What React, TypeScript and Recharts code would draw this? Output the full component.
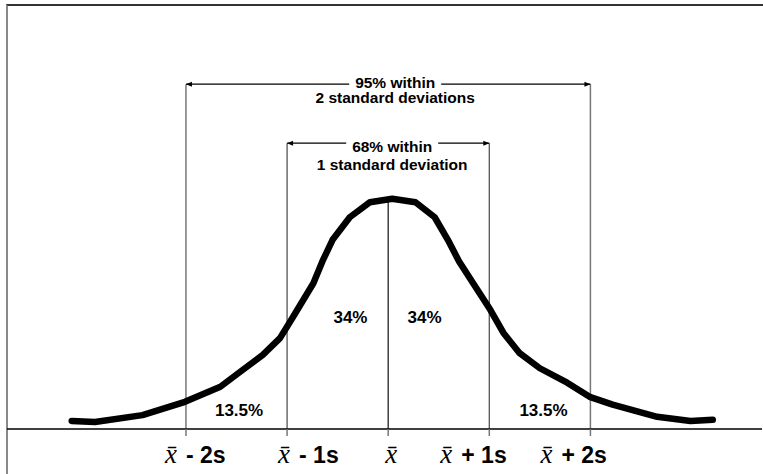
import { LineChart, Line, XAxis, YAxis, ReferenceLine, ReferenceDot } from 'recharts'

// bell curve, x in standard deviations from the mean
const curveZ = [
  -3.13, -2.9, -2.43, -2.01, -1.66, -1.44, -1.24, -1.07, -0.94, -0.74, -0.65, -0.55, -0.38, -0.18, 0.04,
  0.27, 0.46, 0.59, 0.7, 0.84, 1.01, 1.14, 1.3, 1.5, 1.77, 2.0, 2.22, 2.66, 2.99, 3.21,
]
const curveDensity = [
  0.014, 0.012, 0.024, 0.047, 0.073, 0.102, 0.128, 0.157, 0.194, 0.252, 0.29, 0.327, 0.366, 0.392, 0.398,
  0.392, 0.366, 0.327, 0.29, 0.252, 0.206, 0.166, 0.131, 0.105, 0.08, 0.055, 0.042, 0.021, 0.014, 0.016,
]

const sdTicks = [-2, -1, 0, 1, 2]
const tickSuffix = ['- 2s', '- 1s', '', '+ 1s', '+ 2s']

const bandShares = ['13.5%', '34%', '34%', '13.5%']
const within2 = ['95% within', '2 standard deviations']
const within1 = ['68% within', '1 standard deviation']

// layout
const W = 763
const H = 474
const FONT = 'Liberation Sans, Arial, sans-serif'
const tickNudge = [-21, -9, -3, -49, -50]
const shareAt = [
  { z: -1.475, v: 0.0225 },
  { z: -0.373, v: 0.183 },
  { z: 0.359, v: 0.183 },
  { z: 1.536, v: 0.0225 },
]
const level2 = 0.596
const level1 = 0.494

const data = curveZ.map((z, i) => ({ z, d: curveDensity[i] }))
const peak = Math.max(...curveDensity)

function SdTick(props: any) {
  const { x, y, payload } = props
  const i = sdTicks.indexOf(payload.value)
  const suffix = tickSuffix[i]
  return (
    <text x={x + tickNudge[i]} y={y + 25} fill="#000">
      <tspan fontFamily="Liberation Serif, serif" fontStyle="italic" fontSize={27}>
        x̄
      </tspan>
      {suffix && (
        <tspan dx={9} fontFamily={FONT} fontWeight="bold" fontSize={23}>
          {suffix}
        </tspan>
      )}
    </text>
  )
}

function Bracket(props: any, lines: string[], shift: number, gap: number, dy: number[]) {
  const { x1, x2, y1 } = props
  const cx = (x1 + x2) / 2 + shift
  const a = 6
  return (
    <g>
      <line x1={x1} y1={y1} x2={cx - gap} y2={y1} stroke="#000" strokeWidth={1.2} />
      <line x1={cx + gap} y1={y1} x2={x2} y2={y1} stroke="#000" strokeWidth={1.2} />
      <polygon points={`${x1},${y1} ${x1 + a},${y1 - 2.5} ${x1 + a},${y1 + 2.5}`} fill="#000" />
      <polygon points={`${x2},${y1} ${x2 - a},${y1 - 2.5} ${x2 - a},${y1 + 2.5}`} fill="#000" />
      {lines.map((t, k) => (
        <text
          key={k}
          x={cx}
          y={y1 + dy[k]}
          textAnchor="middle"
          fontFamily={FONT}
          fontWeight="bold"
          fontSize={15.5}
          fill="#000"
        >
          {t}
        </text>
      ))}
    </g>
  )
}

export default function App() {
  return (
    <div style={{ position: 'absolute', left: 0, top: 0, width: W, height: H, overflow: 'hidden', background: '#fff' }}>
      {/* frame */}
      <div
        style={{
          position: 'absolute',
          left: 6,
          top: 4,
          width: 2000,
          height: 2000,
          borderTop: '2px solid #333',
          borderLeft: '2px solid #888',
        }}
      />
      <div style={{ position: 'absolute', left: 0, top: 0 }}>
        <LineChart width={W} height={H} data={data} margin={{ top: 24, right: 1, bottom: 4, left: 7 }}>
          <XAxis
            type="number"
            dataKey="z"
            domain={[-3.77, 3.697]}
            allowDataOverflow
            ticks={sdTicks}
            height={41}
            tickSize={7}
            axisLine={{ stroke: '#000', strokeWidth: 1.4 }}
            tickLine={{ stroke: '#777', strokeWidth: 1.5 }}
            tick={SdTick}
            interval={0}
          />
          <YAxis hide domain={[0, 0.7]} />

          {[-2, 2].map((z) => (
            <ReferenceLine key={z} segment={[{ x: z, y: 0 }, { x: z, y: level2 }]} stroke="#777" strokeWidth={1.5} />
          ))}
          {[-1, 1].map((z) => (
            <ReferenceLine key={z} segment={[{ x: z, y: 0 }, { x: z, y: level1 }]} stroke="#555" strokeWidth={1.3} />
          ))}
          <ReferenceLine segment={[{ x: 0, y: 0 }, { x: 0, y: peak }]} stroke="#222" strokeWidth={1.3} />

          <ReferenceLine
            segment={[{ x: -2, y: level2 }, { x: 2, y: level2 }]}
            shape={(p: any) => Bracket(p, within2, 7, 46, [4, 18.5])}
          />
          <ReferenceLine
            segment={[{ x: -1, y: level1 }, { x: 1, y: level1 }]}
            shape={(p: any) => Bracket(p, within1, 4, 46, [9, 27])}
          />

          {bandShares.map((s, i) => (
            <ReferenceDot
              key={i}
              x={shareAt[i].z}
              y={shareAt[i].v}
              r={0}
              shape={(p: any) => (
                <text
                  x={p.cx}
                  y={p.cy}
                  textAnchor="middle"
                  fontFamily={FONT}
                  fontWeight="bold"
                  fontSize={17}
                  fill="#000"
                >
                  {s}
                </text>
              )}
            />
          ))}

          <Line
            type="linear"
            dataKey="d"
            stroke="#000"
            strokeWidth={6.5}
            strokeLinecap="round"
            strokeLinejoin="round"
            dot={false}
            activeDot={false}
            isAnimationActive={false}
          />
        </LineChart>
      </div>
    </div>
  )
}
